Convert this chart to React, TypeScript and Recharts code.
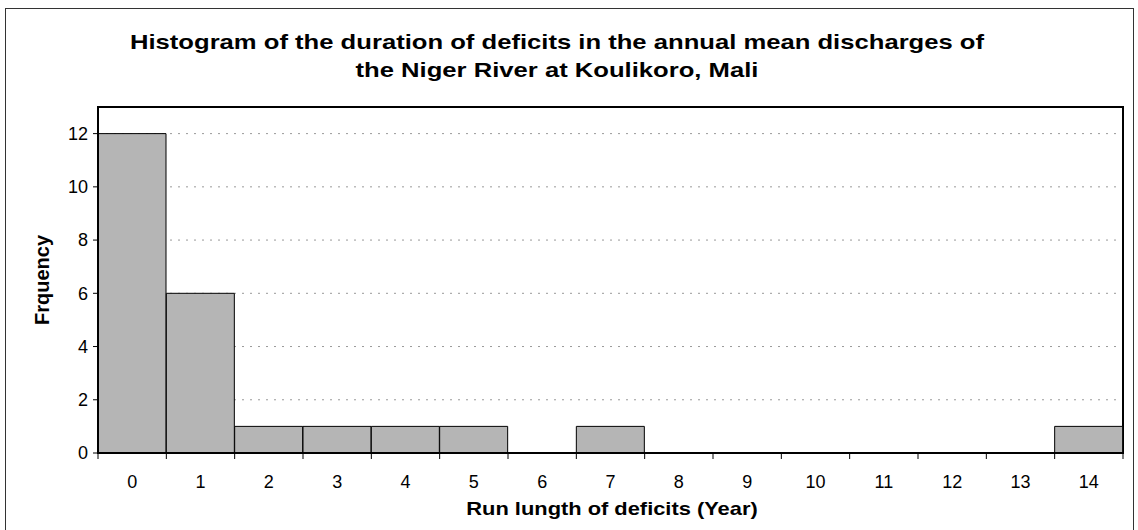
import { BarChart, Bar, XAxis, YAxis, CartesianGrid, ReferenceArea } from 'recharts'

const runLengths = ['0', '1', '2', '3', '4', '5', '6', '7', '8', '9', '10', '11', '12', '13', '14']
const frequencies = [12, 6, 1, 1, 1, 1, 0, 1, 0, 0, 0, 0, 0, 0, 1]
const yTicks = [0, 2, 4, 6, 8, 10, 12]
const yMax = 13

const data = runLengths.map((run, i) => ({ run, freq: frequencies[i] }))

const font = 'Arial, "Liberation Sans", sans-serif'
const TICK_GAP = 14

// category tick: label in the middle, tick marks on the bin edges (Excel style)
function BinTick(props: any) {
  const { x, y, payload, index, width, visibleTicksCount } = props
  let off = payload && typeof payload.offset === 'number' ? payload.offset : 0
  if (!off && width && visibleTicksCount) off = width / visibleTicksCount / 2
  const axisY = y - TICK_GAP
  const isLast = index === runLengths.length - 1
  return (
    <g>
      {off > 0 && <line x1={x - off} x2={x - off} y1={axisY} y2={axisY + 6} stroke="#000" />}
      {off > 0 && isLast && <line x1={x + off} x2={x + off} y1={axisY} y2={axisY + 6} stroke="#000" />}
      <text x={x} y={y + 21} textAnchor="middle" fill="#000" fontSize={18} fontFamily={font}>
        {payload.value}
      </text>
    </g>
  )
}

export default function App() {
  return (
    <div style={{ position: 'absolute', left: 0, top: 0, width: 1138, height: 530, background: '#fff', fontFamily: font, overflow: 'hidden' }}>
      <div style={{ position: 'absolute', left: 5, top: 8, width: 1127, height: 540, border: '1px solid #333' }} />
      <div
        style={{
          position: 'absolute',
          left: 0,
          top: 28,
          width: 1114,
          textAlign: 'center',
          fontWeight: 'bold',
          fontSize: 21,
          lineHeight: '28px',
          color: '#000',
          transform: 'scaleX(1.22)',
          transformOrigin: '557px 0',
        }}
      >
        Histogram of the duration of deficits in the annual mean discharges of
        <br />
        the Niger River at Koulikoro, Mali
      </div>
      <div
        style={{
          position: 'absolute',
          left: 0,
          top: 497,
          width: 1224,
          textAlign: 'center',
          fontWeight: 'bold',
          fontSize: 19,
          lineHeight: '24px',
          color: '#000',
          transform: 'scaleX(1.15)',
          transformOrigin: '612px 0',
        }}
      >
        Run lungth of deficits (Year)
      </div>
      <div style={{ position: 'absolute', left: 0, top: 0 }}>
        <BarChart
          width={1138}
          height={530}
          data={data}
          barCategoryGap={0}
          margin={{ top: 107, right: 15, bottom: 47, left: 58 }}
        >
          <CartesianGrid vertical={false} stroke="#999" strokeDasharray="2 6" />
          <XAxis
            dataKey="run"
            height={30}
            tickLine={false}
            tickSize={0}
            tickMargin={TICK_GAP}
            interval={0}
            axisLine={{ stroke: '#000', strokeWidth: 2 }}
            tick={<BinTick />}
          />
          <YAxis
            width={40}
            domain={[0, yMax]}
            ticks={yTicks}
            interval={0}
            axisLine={{ stroke: '#000', strokeWidth: 2 }}
            tickLine={{ stroke: '#000' }}
            tickSize={5}
            tickMargin={5}
            tick={{ fill: '#000', fontSize: 18, fontFamily: font }}
            label={{
              value: 'Frquency',
              angle: -90,
              position: 'insideLeft',
              offset: -16,
              style: { fill: '#000', fontSize: 20, fontWeight: 'bold', fontFamily: font, textAnchor: 'middle' },
            }}
          />
          <Bar dataKey="freq" fill="#b5b5b5" stroke="#000" strokeWidth={1} isAnimationActive={false} />
          {/* plot-area frame */}
          <ReferenceArea
            x1={runLengths[0]}
            x2={runLengths[runLengths.length - 1]}
            y1={0}
            y2={yMax}
            fill="none"
            fillOpacity={0}
            stroke="#000"
            strokeWidth={2}
            ifOverflow="visible"
          />
        </BarChart>
      </div>
    </div>
  )
}
